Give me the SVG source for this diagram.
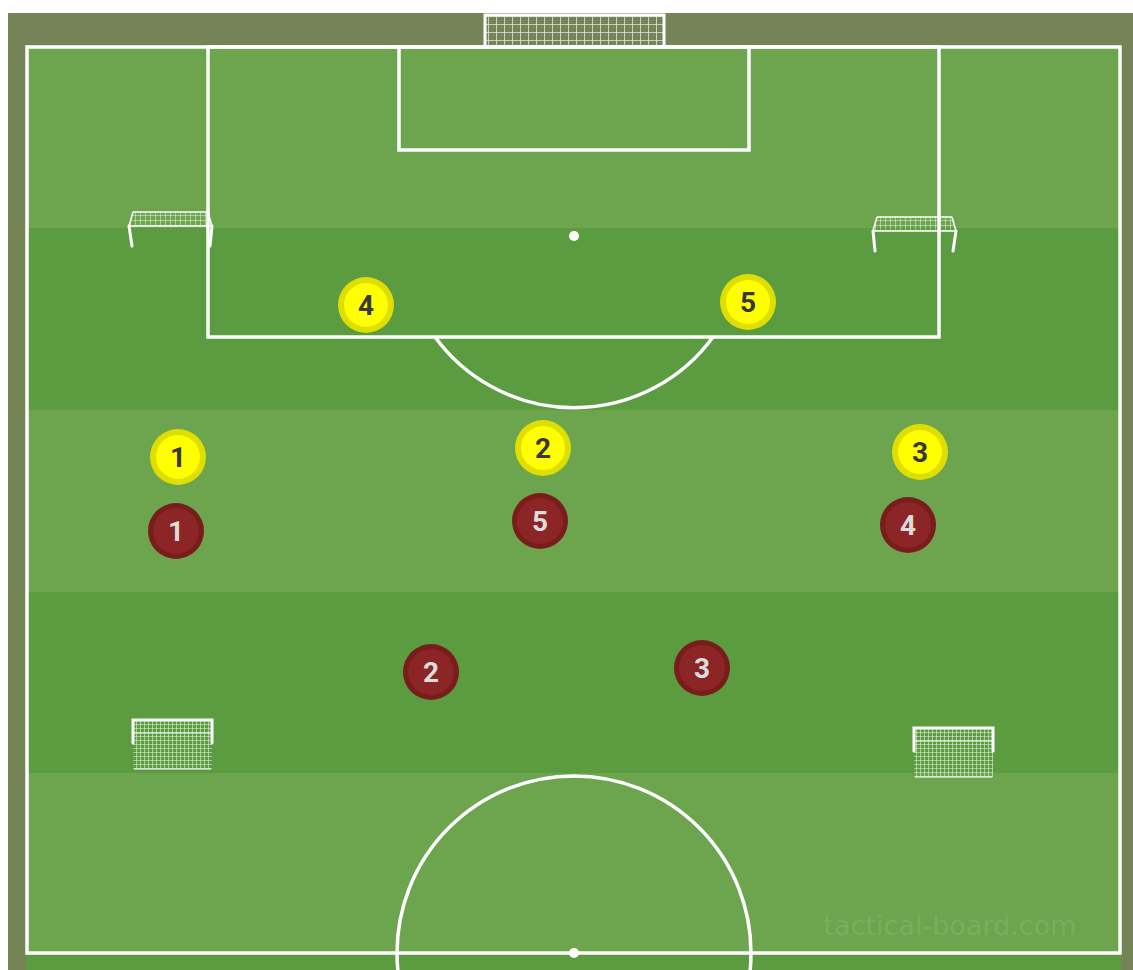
<svg xmlns="http://www.w3.org/2000/svg" width="1133" height="970" viewBox="0 0 1133 970">
<defs>
<pattern id="net" width="8" height="8" patternUnits="userSpaceOnUse">
<path d="M0 0H8M0 0V8" stroke="#ffffff" stroke-width="1.6" stroke-opacity="0.8" fill="none"/>
</pattern>
<pattern id="netS" width="5" height="5" patternUnits="userSpaceOnUse">
<path d="M0 0H5M0 0V5" stroke="#ffffff" stroke-width="1" stroke-opacity="0.85" fill="none"/>
</pattern>
<pattern id="netB" width="4" height="4" patternUnits="userSpaceOnUse">
<path d="M0 0H4M0 0V4" stroke="#ffffff" stroke-width="1.1" stroke-opacity="0.9" fill="none"/>
</pattern>
</defs>
<style>
.ln{fill:none;stroke:#ffffff;stroke-width:3.5}
.post{fill:none;stroke:#ffffff;stroke-width:3;stroke-linecap:round}
.yo{fill:#dede00}
.yi{fill:#ffff00}
.ro{fill:#781c1c}
.ri{fill:#8c2525}
.yt{font-family:Roboto,"Liberation Sans",sans-serif;font-weight:bold;font-size:28px;fill:#383838;text-anchor:middle}
.rt{font-family:Roboto,"Liberation Sans",sans-serif;font-weight:bold;font-size:28px;fill:#dcdcdc;text-anchor:middle}
</style>
<rect width="1133" height="970" fill="#ffffff"/>
<rect x="8" y="13" width="1125" height="957" fill="#748456"/>
<g id="field">
<rect x="26" y="45" width="1095" height="925" fill="#6da54f"/>
<rect x="26" y="228" width="1095" height="182" fill="#5a9c3f"/>
<rect x="26" y="592" width="1095" height="181" fill="#5a9c3f"/>
<rect x="26" y="955" width="1095" height="15" fill="#5a9c3f"/>
<rect x="27" y="47" width="1093" height="906" class="ln"/>
<rect x="208" y="47" width="731" height="290" class="ln"/>
<rect x="399" y="47" width="350" height="103" class="ln"/>
<path d="M435 337 A172 172 0 0 0 713 337" class="ln"/>
<circle cx="574" cy="953" r="177" class="ln"/>
<circle cx="574" cy="236" r="5" fill="#ffffff"/>
<circle cx="574" cy="953" r="5" fill="#ffffff"/>
<text x="950" y="935" font-family="'Comic Sans MS','DejaVu Sans',sans-serif" font-size="27" fill="#ffffff" fill-opacity="0.1" text-anchor="middle">tactical-board.com</text>
</g>
<g id="goal-top">
<rect x="485" y="15" width="179" height="30" fill="url(#net)"/>
<path d="M485 45V15H664V45" class="post"/>
</g>
<g id="goal-left-side">
<path d="M133 212H208L212 226H129Z" fill="url(#netS)"/>
<path d="M133 212H208M129 226H212M133 212L129 226M208 212L212 226" stroke="#ffffff" stroke-width="1.5" fill="none"/>
<path d="M129 226L132 246M212 226L210 246" class="post"/>
</g>
<g id="goal-right-side">
<path d="M877 217H952L956 231H873Z" fill="url(#netS)"/>
<path d="M877 217H952M873 231H956M877 217L873 231M952 217L956 231" stroke="#ffffff" stroke-width="1.5" fill="none"/>
<path d="M873 231L875 251M956 231L953 251" class="post"/>
</g>
<g id="goal-left-bottom">
<rect x="133" y="720" width="79" height="49" fill="url(#netB)"/>
<path d="M133 720H212M134 733H211M134 769H211" stroke="#ffffff" stroke-width="1.2" fill="none"/>
<path d="M133 743V720H212V743" class="post"/>
</g>
<g id="goal-right-bottom">
<rect x="914" y="728" width="79" height="49" fill="url(#netB)"/>
<path d="M914 728H993M915 741H992M915 777H992" stroke="#ffffff" stroke-width="1.2" fill="none"/>
<path d="M914 751V728H993V751" class="post"/>
</g>
<g id="y4"><circle cx="366" cy="305" r="28" class="yo"/><circle cx="366" cy="305" r="22" class="yi"/><text x="366" y="315" class="yt">4</text></g>
<g id="y5"><circle cx="748" cy="302" r="28" class="yo"/><circle cx="748" cy="302" r="22" class="yi"/><text x="748" y="312" class="yt">5</text></g>
<g id="y1"><circle cx="178" cy="457" r="28" class="yo"/><circle cx="178" cy="457" r="22" class="yi"/><text x="178" y="467" class="yt">1</text></g>
<g id="y2"><circle cx="543" cy="448" r="28" class="yo"/><circle cx="543" cy="448" r="22" class="yi"/><text x="543" y="458" class="yt">2</text></g>
<g id="y3"><circle cx="920" cy="452" r="28" class="yo"/><circle cx="920" cy="452" r="22" class="yi"/><text x="920" y="462" class="yt">3</text></g>
<g id="r1"><circle cx="176" cy="531" r="28" class="ro"/><circle cx="176" cy="531" r="23" class="ri"/><text x="176" y="541" class="rt">1</text></g>
<g id="r5"><circle cx="540" cy="521" r="28" class="ro"/><circle cx="540" cy="521" r="23" class="ri"/><text x="540" y="531" class="rt">5</text></g>
<g id="r4"><circle cx="908" cy="525" r="28" class="ro"/><circle cx="908" cy="525" r="23" class="ri"/><text x="908" y="535" class="rt">4</text></g>
<g id="r2"><circle cx="431" cy="672" r="28" class="ro"/><circle cx="431" cy="672" r="23" class="ri"/><text x="431" y="682" class="rt">2</text></g>
<g id="r3"><circle cx="702" cy="668" r="28" class="ro"/><circle cx="702" cy="668" r="23" class="ri"/><text x="702" y="678" class="rt">3</text></g>
</svg>
